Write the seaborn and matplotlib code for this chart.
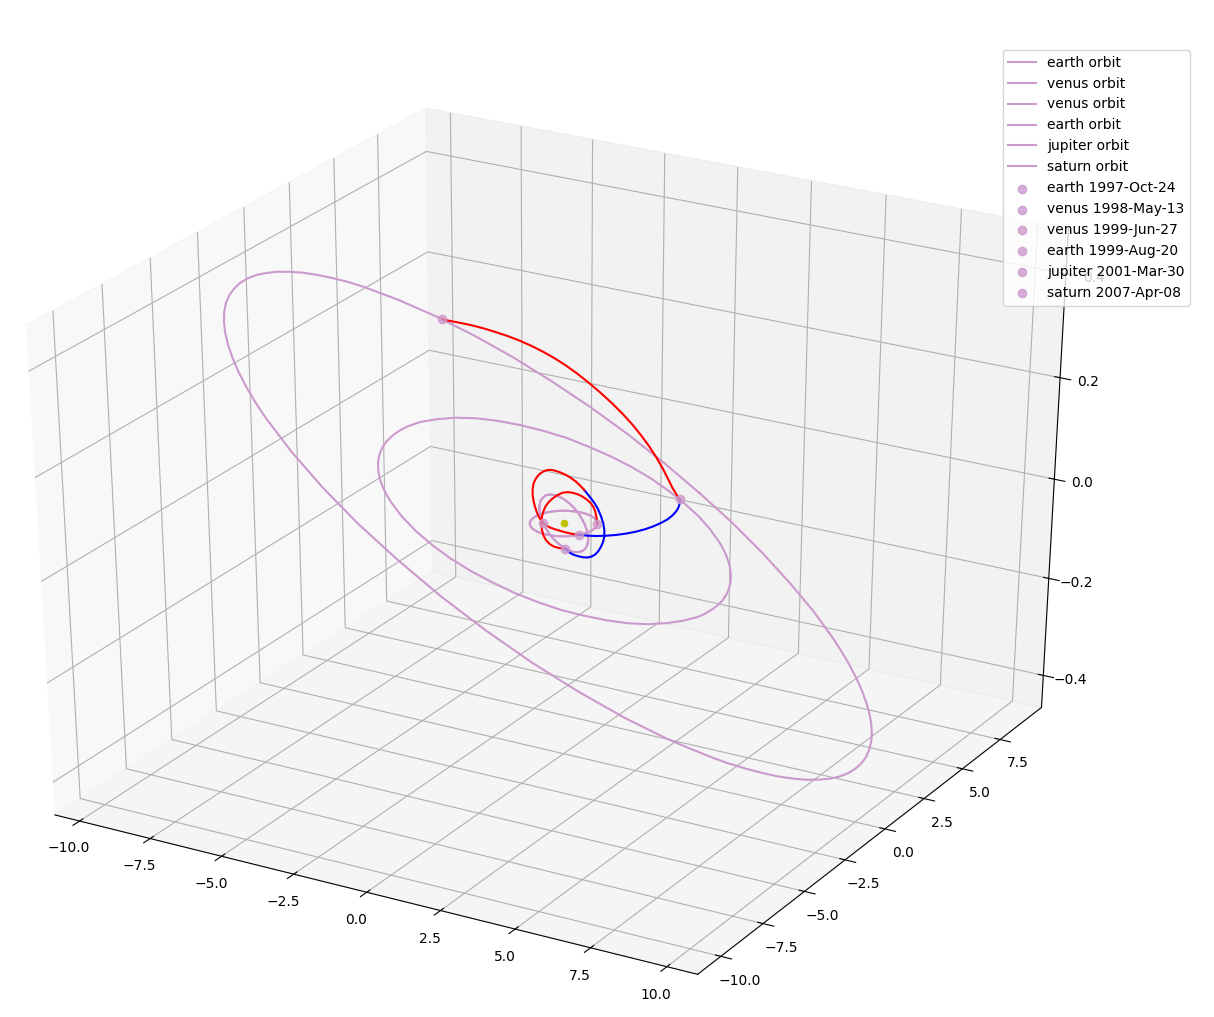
import numpy as np
import matplotlib
matplotlib.use("Agg")
import matplotlib.pyplot as plt
import seaborn as sns

# Heliocentric coordinates in AU: (x, y, z) per sample; each orbit is closed when plotted.
earth_orbit = [(-0.220,0.958,0),(-0.414,0.892,0),(-0.591,0.787,0),(-0.743,0.648,0),(-0.864,0.481,0),
    (-0.948,0.292,0),(-0.991,0.088,0),(-0.991,-0.120,0),(-0.947,-0.324,0),(-0.862,-0.516,0),
    (-0.739,-0.686,0),(-0.581,-0.827,0),(-0.398,-0.932,0),(-0.195,-0.996,0),(0.016,-1.016,0),
    (0.227,-0.991,0),(0.428,-0.922,0),(0.610,-0.812,0),(0.764,-0.666,0),(0.883,-0.492,0),
    (0.964,-0.296,0),(1.001,-0.089,0),(0.994,0.120,0),(0.944,0.323,0),(0.853,0.511,0),
    (0.726,0.675,0),(0.568,0.809,0),(0.387,0.907,0),(0.190,0.966,0),(-0.015,0.984,0)]
venus_orbit = [(-0.475,0.538,0.035),(-0.576,0.427,0.039),(-0.653,0.298,0.042),(-0.701,0.155,0.043),
    (-0.718,0.006,0.041),(-0.705,-0.144,0.039),(-0.661,-0.288,0.034),(-0.587,-0.420,0.028),
    (-0.488,-0.534,0.021),(-0.367,-0.624,0.013),(-0.230,-0.688,0.004),(-0.082,-0.722,-0.005),
    (0.069,-0.724,-0.014),(0.218,-0.694,-0.022),(0.358,-0.633,-0.029),(0.481,-0.545,-0.035),
    (0.584,-0.433,-0.040),(0.661,-0.301,-0.042),(0.708,-0.157,-0.043),(0.725,-0.006,-0.042),
    (0.710,0.145,-0.039),(0.663,0.289,-0.034),(0.588,0.420,-0.028),(0.487,0.533,-0.021),
    (0.366,0.622,-0.013),(0.229,0.683,-0.004),(0.082,0.715,0.005),(-0.069,0.716,0.014),
    (-0.215,0.685,0.022),(-0.353,0.625,0.029)]
jupiter_orbit = [(4.796,1.225,-0.112),(4.707,1.537,-0.111),(4.597,1.842,-0.110),(4.469,2.140,-0.108),
    (4.322,2.429,-0.106),(4.158,2.709,-0.104),(3.976,2.978,-0.101),(3.778,3.236,-0.098),
    (3.563,3.481,-0.094),(3.333,3.714,-0.090),(3.088,3.930,-0.085),(2.559,4.317,-0.075),
    (1.983,4.635,-0.063),(1.368,4.880,-0.051),(0.724,5.045,-0.037),(0.060,5.126,-0.022),
    (-0.614,5.122,-0.007),(-1.285,5.029,0.008),(-1.942,4.849,0.023),(-2.574,4.583,0.039),
    (-3.170,4.233,0.053),(-3.716,3.805,0.067),(-4.204,3.305,0.080),(-4.622,2.742,0.092),
    (-4.962,2.124,0.102),(-5.215,1.464,0.110),(-5.377,0.772,0.117),(-5.422,0.419,0.119),
    (-5.444,0.064,0.121),(-5.440,-0.293,0.122),(-5.412,-0.648,0.123),(-5.359,-1.001,0.123),
    (-5.284,-1.350,0.123),(-5.183,-1.692,0.122),(-5.060,-2.027,0.121),(-4.914,-2.352,0.119),
    (-4.746,-2.667,0.117),(-4.557,-2.968,0.114),(-4.348,-3.257,0.110),(-4.120,-3.529,0.106),
    (-3.874,-3.786,0.102),(-3.612,-4.024,0.097),(-3.335,-4.244,0.092),(-2.741,-4.623,0.080),
    (-2.104,-4.917,0.067),(-1.436,-5.122,0.053),(-0.751,-5.235,0.038),(-0.061,-5.256,0.023),
    (0.621,-5.187,0.008),(1.285,-5.029,-0.008),(1.918,-4.788,-0.023),(2.511,-4.470,-0.038),
    (3.054,-4.079,-0.051),(3.541,-3.626,-0.064),(3.963,-3.116,-0.076),(4.316,-2.560,-0.086),
    (4.595,-1.967,-0.094),(4.796,-1.346,-0.101),(4.917,-0.706,-0.107),(4.948,-0.383,-0.109),
    (4.957,-0.058,-0.110),(4.948,0.266,-0.111),(4.917,0.589,-0.112),(4.867,0.909,-0.112)]
saturn_orbit = [(-0.412,9.012,-0.141),(-1.585,8.886,-0.092),(-2.734,8.615,-0.041),(-3.842,8.203,0.010),
    (-4.894,7.654,0.061),(-5.872,6.977,0.112),(-6.761,6.178,0.161),(-7.547,5.270,0.208),
    (-8.216,4.264,0.252),(-8.755,3.174,0.293),(-8.973,2.601,0.312),(-9.153,2.017,0.329),
    (-9.297,1.417,0.345),(-9.401,0.810,0.360),(-9.467,0.191,0.373),(-9.492,-0.428,0.385),
    (-9.476,-1.054,0.395),(-9.420,-1.676,0.404),(-9.322,-2.299,0.411),(-9.184,-2.912,0.416),
    (-9.003,-3.521,0.419),(-8.784,-4.115,0.421),(-8.523,-4.699,0.421),(-8.225,-5.262,0.419),
    (-7.886,-5.808,0.415),(-7.513,-6.329,0.409),(-7.101,-6.828,0.401),(-6.658,-7.297,0.392),
    (-6.180,-7.737,0.380),(-5.676,-8.144,0.367),(-5.141,-8.517,0.352),(-4.584,-8.853,0.336),
    (-3.400,-9.407,0.299),(-2.149,-9.795,0.256),(-0.854,-10.008,0.208),(0.459,-10.039,0.157),
    (1.764,-9.890,0.102),(3.034,-9.562,0.046),(4.245,-9.063,-0.011),(5.373,-8.404,-0.067),
    (6.396,-7.600,-0.122),(7.297,-6.668,-0.174),(7.694,-6.161,-0.198),(8.059,-5.627,-0.222),
    (8.383,-5.074,-0.245),(8.671,-4.500,-0.266),(8.917,-3.912,-0.286),(9.124,-3.308,-0.305),
    (9.288,-2.697,-0.322),(9.412,-2.074,-0.338),(9.493,-1.451,-0.352),(9.534,-0.821,-0.365),
    (9.533,-0.197,-0.376),(9.492,0.428,-0.385),(9.411,1.042,-0.392),(9.289,1.652,-0.398),
    (9.130,2.247,-0.402),(8.931,2.832,-0.404),(8.699,3.398,-0.405),(8.429,3.949,-0.404),
    (8.128,4.477,-0.401),(7.793,4.985,-0.397),(7.430,5.468,-0.391),(7.035,5.927,-0.383),
    (6.617,6.358,-0.374),(6.170,6.761,-0.363),(5.703,7.134,-0.351),(5.211,7.476,-0.337),
    (4.175,8.063,-0.306),(3.078,8.515,-0.271),(1.936,8.826,-0.231),(0.767,8.992,-0.187)]

# Cruise legs between successive flybys, with the deep-space manoeuvre splitting the Venus-Venus leg.
leg_earth_venus = [(0.898,0.431,0),(0.628,0.852,-0.0013),(0.302,1.337,-0.0027),(0.052,1.666,-0.0040),
    (-0.190,1.934,-0.0053),(-0.458,2.170,-0.0067),(-0.723,2.360,-0.0080),(-0.973,2.500,-0.0093),
    (-1.195,2.579,-0.0107),(-1.376,2.592,-0.0120),(-1.508,2.522,-0.0133),(-1.575,2.332,-0.0147),
    (-1.593,2.075,-0.0160),(-1.572,1.800,-0.0173),(-1.502,1.486,-0.0187),(-1.363,1.113,-0.0200),
    (-1.184,0.728,-0.0213),(-0.983,0.366,-0.0227),(-0.766,0.034,-0.0240),(-0.544,-0.257,-0.0253),
    (-0.322,-0.490,-0.0267),(-0.103,-0.647,-0.0280),(0.099,-0.724,-0.0293),(0.282,-0.684,-0.0307),
    (0.406,-0.603,-0.0320)]
leg_venus_dsm = [(0.406,-0.603,-0.0320),(0.569,-0.751,-0.0309),(0.774,-0.908,-0.0299),(0.963,-1.000,-0.0288),
    (1.143,-1.057,-0.0277),(1.305,-1.090,-0.0266),(1.435,-1.074,-0.0256),(1.521,-0.987,-0.0245),
    (1.556,-0.834,-0.0234),(1.526,-0.599,-0.0223),(1.447,-0.312,-0.0213),(1.342,-0.007,-0.0202),
    (1.188,0.335,-0.0191),(0.964,0.728,-0.0180),(0.685,1.149,-0.0170),(0.340,1.601,-0.0159),
    (-0.008,2.016,-0.0148),(-0.286,2.302,-0.0137),(-0.535,2.531,-0.0127),(-0.802,2.769,-0.0116),
    (-0.998,2.934,-0.0105)]
leg_dsm_venus = [(-0.998,2.934,-0.0105),(-1.219,3.105,-0.0094),(-1.507,3.315,-0.0083),(-1.759,3.456,-0.0073),
    (-1.995,3.557,-0.0062),(-2.202,3.608,-0.0051),(-2.375,3.613,-0.0040),(-2.507,3.584,-0.0030),
    (-2.590,3.485,-0.0019),(-2.619,3.276,-0.0008),(-2.587,2.985,0.0003),(-2.486,2.618,0.0013),
    (-2.325,2.203,0.0024),(-2.100,1.761,0.0035),(-1.836,1.313,0.0046),(-1.554,0.883,0.0056),
    (-1.266,0.478,0.0067),(-0.988,0.105,0.0078),(-0.732,-0.217,0.0089),(-0.504,-0.468,0.0099),
    (-0.337,-0.641,0.0110)]
leg_venus_earth = [(-0.337,-0.641,0.0110),(-0.218,-0.696,0.0096),(-0.050,-0.760,0.0083),(0.115,-0.764,0.0069),
    (0.282,-0.746,0.0055),(0.441,-0.724,0.0041),(0.588,-0.688,0.0028),(0.734,-0.632,0.0014),(0.836,-0.571,0)]
leg_earth_jupiter = [(0.836,-0.571,0),(0.991,-0.403,-0.0029),(1.206,-0.191,-0.0058),(1.392,0.067,-0.0086),
    (1.566,0.366,-0.0115),(1.717,0.709,-0.0144),(1.838,1.081,-0.0173),(1.917,1.459,-0.0201),
    (1.961,1.862,-0.0230),(1.976,2.318,-0.0259),(1.953,2.783,-0.0288),(1.873,3.222,-0.0316),
    (1.759,3.634,-0.0345),(1.625,4.006,-0.0374),(1.474,4.346,-0.0403),(1.305,4.677,-0.0431),
    (1.156,4.944,-0.0460)]
leg_jupiter_saturn = [(1.156,4.944,-0.0460),(1.095,4.868,-0.0365),(0.903,4.947,-0.0270),(0.599,5.200,-0.0175),
    (0.221,5.536,-0.0080),(-0.184,5.866,0.0015),(-0.621,6.201,0.0110),(-1.079,6.520,0.0205),
    (-1.559,6.824,0.0300),(-2.052,7.100,0.0395),(-2.565,7.356,0.0490),(-3.112,7.606,0.0585),
    (-3.654,7.822,0.0680),(-4.156,7.977,0.0775),(-4.624,8.072,0.0870),(-5.049,8.094,0.0965),
    (-5.439,8.054,0.1060),(-5.797,7.961,0.1155),(-6.124,7.814,0.1250),(-6.419,7.615,0.1345),
    (-6.690,7.376,0.1440),(-6.938,7.112,0.1535),(-7.179,6.813,0.1630),(-7.484,6.464,0.1725),
    (-7.693,6.101,0.1820),(-7.617,5.764,0.1915),(-7.424,5.428,0.2010)]

orbit_names = ["earth orbit", "venus orbit", "venus orbit", "earth orbit", "jupiter orbit", "saturn orbit"]
orbits = [earth_orbit, venus_orbit, venus_orbit, earth_orbit, jupiter_orbit, saturn_orbit]
flyby_names = ["earth 1997-Oct-24", "venus 1998-May-13", "venus 1999-Jun-27",
               "earth 1999-Aug-20", "jupiter 2001-Mar-30", "saturn 2007-Apr-08"]
flyby_points = [(0.898,0.431,0), (0.406,-0.603,-0.032), (-0.337,-0.641,0.011),
                (0.836,-0.571,0), (1.156,4.944,-0.046), (-7.424,5.428,0.201)]
legs = [leg_earth_venus, leg_venus_dsm, leg_dsm_venus, leg_venus_earth, leg_earth_jupiter, leg_jupiter_saturn]
leg_colors = ["r", "b", "r", "r", "b", "r"]

sns.reset_orig()
orbit_color = sns.color_palette(["#cc99cc"])[0]

fig = plt.figure(figsize=(12.14, 10.17), dpi=100)
ax = fig.add_subplot(projection="3d", computed_zorder=False)
ax.set_box_aspect((1, 1, 1))
# Let the cube stretch with the axes rectangle rather than staying square.
ax.apply_aspect = lambda *args, **kwargs: None
W, H = 1247.5, 939
ax.set_position([(539.7 - W / 2) / 1214, 1 - (537.6 + H / 2) / 1017, W / 1214, H / 1017])

for name, orbit in zip(orbit_names, orbits):
    x, y, z = np.array(orbit + orbit[:1]).T
    ax.plot(x, y, z, color=orbit_color, label=name)

for leg, color in zip(legs, leg_colors):
    x, y, z = np.array(leg).T
    ax.plot(x, y, z, color=color)

# Flyby markers and the Sun sit above the trajectory lines.
for name, (x, y, z) in zip(flyby_names, flyby_points):
    ax.scatter(x, y, z, s=36, color=orbit_color, alpha=0.8, depthshade=False, label=name, zorder=3)

ax.scatter(0, 0, 0, c="y", s=20, depthshade=False, zorder=3)

ax.set_xlim(-10.88, 11.0)
ax.set_ylim(-11.35, 10.3)
ax.set_zlim(-0.467, 0.485)
ax.set_xticks(np.arange(-10, 10.1, 2.5))
ax.set_yticks(np.arange(-10, 7.6, 2.5))
ax.set_zticks([-0.4, -0.2, 0.0, 0.2, 0.4])

ax.legend(loc="upper right", bbox_to_anchor=(1190 / 1214, 1 - 50 / 1017),
          bbox_transform=fig.transFigure, borderaxespad=0)
fig.savefig("out.png", dpi=100)
